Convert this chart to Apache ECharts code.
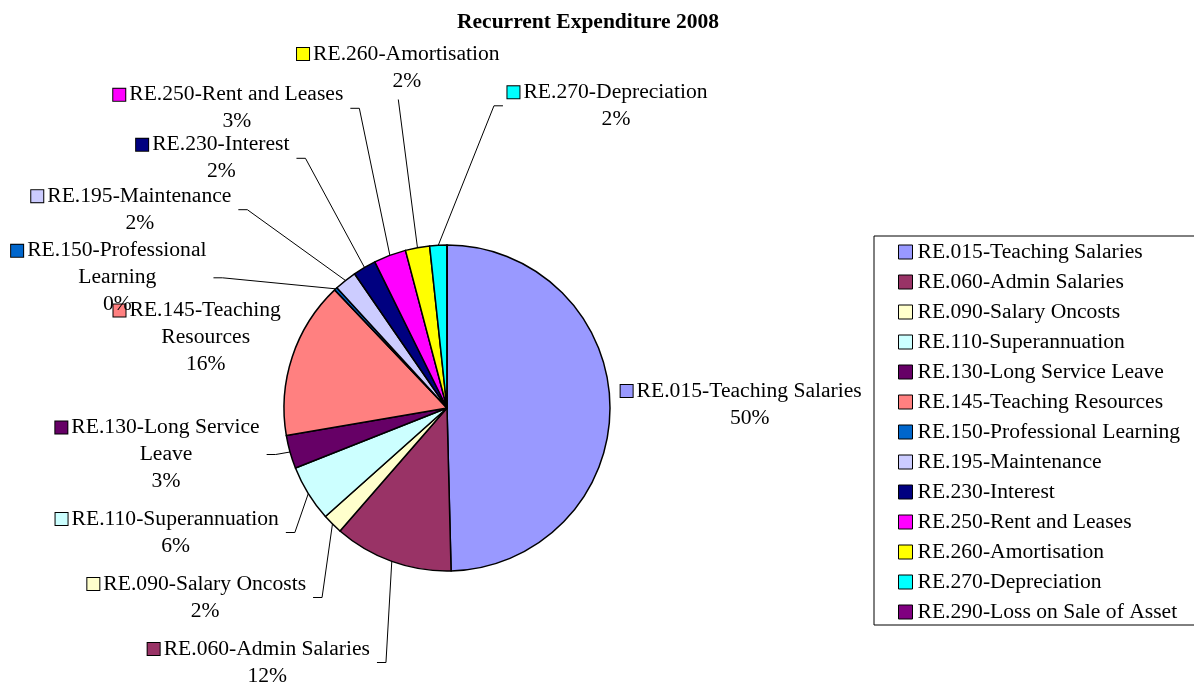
<!DOCTYPE html>
<html>
<head>
<meta charset="utf-8">
<script src="https://cdn.jsdelivr.net/npm/echarts@6/dist/echarts.min.js"></script>
<style>
html,body{margin:0;padding:0;background:#fff;}
#chart{width:1194px;height:685px;}
</style>
</head>
<body>
<div id="chart"></div>
<script>
// ---- data ----
const chartTitle = 'Recurrent Expenditure 2008';
const categories = [
  'RE.015-Teaching Salaries',
  'RE.060-Admin Salaries',
  'RE.090-Salary Oncosts',
  'RE.110-Superannuation',
  'RE.130-Long Service Leave',
  'RE.145-Teaching Resources',
  'RE.150-Professional Learning',
  'RE.195-Maintenance',
  'RE.230-Interest',
  'RE.250-Rent and Leases',
  'RE.260-Amortisation',
  'RE.270-Depreciation',
  'RE.290-Loss on Sale of Asset'
];
const labelNames = [
  'RE.015-Teaching Salaries',
  'RE.060-Admin Salaries',
  'RE.090-Salary Oncosts',
  'RE.110-Superannuation',
  'RE.130-Long Service\nLeave',
  'RE.145-Teaching\nResources',
  'RE.150-Professional\nLearning',
  'RE.195-Maintenance',
  'RE.230-Interest',
  'RE.250-Rent and Leases',
  'RE.260-Amortisation',
  'RE.270-Depreciation',
  'RE.290-Loss on Sale of Asset'
];
const values = [49.6, 11.8, 2.0, 5.6, 3.3, 15.6, 0.3, 2.2, 2.3, 3.2, 2.4, 1.7, 0];
const colors = ['#9999FF', '#993366', '#FFFFCC', '#CCFFFF', '#660066', '#FF8080', '#0066CC',
                '#CCCCFF', '#000080', '#FF00FF', '#FFFF00', '#00FFFF', '#800080'];

// ---- label layout (block centres and leader-line side) ----
const labelPlacement = [
  {x: 741.2, y: 404.5, side: 'none'},
  {x: 258.8, y: 662.5, side: 'right'},
  {x: 196.7, y: 597.5, side: 'right'},
  {x: 167.2, y: 532.5, side: 'right'},
  {x: 157.5, y: 454.5, side: 'right'},
  {x: 197.2, y: 337.5, side: 'none'},
  {x: 108.8, y: 277.8, side: 'right'},
  {x: 131.3, y: 209.7, side: 'right'},
  {x: 212.8, y: 158.3, side: 'right'},
  {x: 228.3, y: 108.3, side: 'right'},
  {x: 398.3, y: 67.5, side: 'bottom'},
  {x: 607.5, y: 105.8, side: 'left'},
  null
];

const FONT = '"Liberation Serif", "Times New Roman", serif';
const FS = 21.6;

const pieData = categories.map((name, i) => ({
  name: name,
  value: values[i],
  itemStyle: {color: colors[i]},
  label: {
    show: labelPlacement[i] !== null,
    rich: {
      sq: {width: 12, height: 12, backgroundColor: colors[i], borderColor: '#000', borderWidth: 1},
      gap: {width: 4},
      pad: {width: 17}
    }
  },
  labelLine: {show: labelPlacement[i] !== null && labelPlacement[i].side !== 'none'}
}));

const chart = echarts.init(document.getElementById('chart'), null, {renderer: 'canvas'});
chart.setOption({
  animation: false,
  backgroundColor: '#fff',
  title: {
    text: chartTitle,
    left: 583,
    top: 6,
    textAlign: 'center',
    textStyle: {fontFamily: FONT, fontSize: 21.5, fontWeight: 'bold', color: '#000'}
  },
  legend: {
    orient: 'vertical',
    left: 874,
    top: 236,
    padding: [4, 40, 1, 24],
    itemGap: 6,
    itemWidth: 14,
    itemHeight: 14,
    icon: 'rect',
    borderColor: '#000',
    borderWidth: 1,
    selectedMode: false,
    itemStyle: {borderColor: '#000', borderWidth: 1},
    textStyle: {fontFamily: FONT, fontSize: FS, lineHeight: 24, color: '#000'},
    data: categories
  },
  series: [{
    type: 'pie',
    center: [447, 408],
    radius: 163,
    startAngle: 90,
    clockwise: true,
    avoidLabelOverlap: false,
    percentPrecision: 0,
    emphasis: {disabled: true},
    itemStyle: {borderColor: '#000', borderWidth: 1.5},
    label: {
      position: 'outside',
      color: '#000',
      fontFamily: FONT,
      fontSize: FS,
      lineHeight: 27,
      formatter: function (p) {
        const lines = labelNames[p.dataIndex].split('\n');
        let s = '{sq|}{gap|}' + lines[0];
        for (let k = 1; k < lines.length; k++) s += '\n{pad|}' + lines[k];
        s += '\n{pad|}' + p.percent + '%';
        return s;
      }
    },
    labelLine: {show: true, length: 10, length2: 10, lineStyle: {color: '#000', width: 1}},
    labelLayout: function (p) {
      const cfg = labelPlacement[p.dataIndex];
      if (!cfg) return {};
      const w = p.labelRect.width, h = p.labelRect.height;
      const out = {x: cfg.x, y: cfg.y, align: 'center', verticalAlign: 'middle'};
      const pts = p.labelLinePoints;
      if (pts && cfg.side !== 'none') {
        const p0 = pts[0];
        let p1, p2;
        if (cfg.side === 'right') {
          p2 = [cfg.x + w / 2 + 6.5, cfg.y];
          p1 = [p2[0] + 9, cfg.y];
        } else if (cfg.side === 'left') {
          p2 = [cfg.x - w / 2 - 4, cfg.y];
          p1 = [p2[0] - 9, cfg.y];
        } else {
          p2 = [cfg.x, cfg.y + h / 2 + 5];
          p1 = [cfg.x, cfg.y + h / 2 + 5];
        }
        out.labelLinePoints = [p0, p1, p2];
      }
      return out;
    },
    data: pieData
  }]
});
</script>
</body>
</html>
